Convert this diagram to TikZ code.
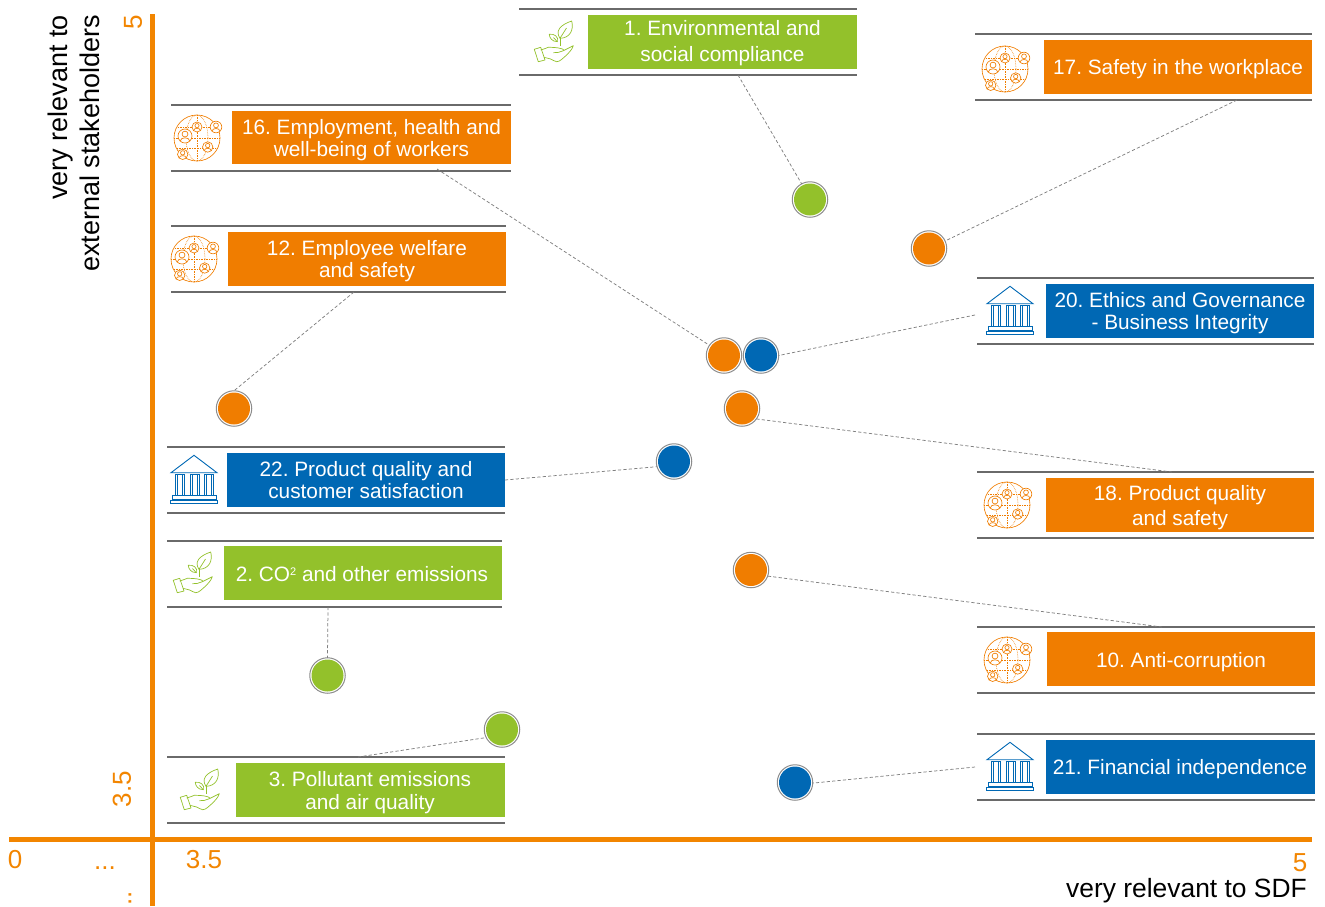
\documentclass[tikz,border=0pt]{standalone}
\usepackage{fontspec}
\setmainfont{Liberation Sans}
\frenchspacing
\definecolor{cOrange}{HTML}{F07D00}
\definecolor{cAxis}{HTML}{F28500}
\definecolor{cGreen}{HTML}{93C12B}
\definecolor{cBlue}{HTML}{0068B4}
\definecolor{cRule}{HTML}{6A6A6A}
\definecolor{cDash}{HTML}{808080}
\definecolor{cRing}{HTML}{8C8C8C}
\newcommand{\myperson}[3]{%
  \draw[fill=white] (#1,#2) circle[radius=#3];
  \draw (#1,#2-0.28*#3) circle[radius=0.42*#3];
  \draw (#1-0.68*#3,#2+0.72*#3) .. controls (#1-0.65*#3,#2+0.1*#3) and (#1+0.65*#3,#2+0.1*#3) .. (#1+0.68*#3,#2+0.72*#3);
}
\tikzset{
  x=1pt,y=-1pt,
  bandrule/.style={draw=cRule,line width=1.9pt},
  labelbox/.style={anchor=center,inner sep=0pt,outer sep=0pt,text=white,align=center,font=\fontsize{20.8}{22.4}\selectfont},
  conn/.style={draw=cDash,line width=0.75pt,dash pattern=on 3.2pt off 2.2pt},
  dotbase/.style={circle,draw=cRing,line width=1pt,fill=white,minimum size=35.5pt,inner sep=0pt,outer sep=0pt,
    path picture={\fill[#1] (path picture bounding box.center) circle[radius=16pt];}},
  axislabel/.style={text=cAxis,font=\fontsize{26}{28}\selectfont,inner sep=0pt},
  axistitle/.style={text=black,font=\fontsize{26.4}{31.5}\selectfont,inner sep=0pt},
  globeicon/.pic={
    \begin{scope}[draw=cOrange,line width=0.65pt]
      \draw (0,0) circle[radius=23];
      \draw[densely dotted] (0,-23) -- (0,23) (-23,0) -- (23,0) (-19,-11) -- (19,-11) (-20,10) -- (20,10);
      \draw[densely dotted] (0,0) ellipse[x radius=11,y radius=23];
      \myperson{0}{-11}{5}
      \myperson{19}{-11}{5.8}
      \myperson{-12}{-2}{7}
      \myperson{10.7}{9}{5.2}
      \myperson{-14.3}{16.3}{5.2}
    \end{scope}
  },
  bankicon/.pic={
    \begin{scope}[draw=cBlue,line width=0.9pt]
      \draw (-23,-7.3) -- (0,-24.7) -- (23,-7.3) -- cycle;
      \draw (-18.3,-6) rectangle (-10,15);
      \draw (-4,-6) rectangle (5,15);
      \draw (10.3,-6) rectangle (19.3,15);
      \draw (-16.3,-6) -- (-16.3,15) (-12,-6) -- (-12,15);
      \draw (-2,-6) -- (-2,15) (3,-6) -- (3,15);
      \draw (12.3,-6) -- (12.3,15) (17.3,-6) -- (17.3,15);
      \draw (-21.3,15) rectangle (22,19);
      \draw (-24,20) rectangle (23.7,23.3);
    \end{scope}
  },
  planticon/.pic={
    \begin{scope}[draw=cGreen,line width=0.7pt,line join=round]
      % big leaf
      \draw (7,-3.7) .. controls (2,-11) and (7,-17) .. (18.7,-21) .. controls (21,-12) and (17,-4) .. cycle;
      \draw (7,-3.7) -- (13.5,-14);
      % small leaf
      \draw (4.3,-0.3) .. controls (-1,-0.5) and (-3.5,-4) .. (-3.7,-7.7) .. controls (1,-8.5) and (6,-5.5) .. cycle;
      \draw (4.3,-0.3) -- (0.5,-4.5);
      % stem
      \draw (7,3.7) -- (7,-5);
      % cuff
      \draw (-18.7,7.3) -- (-12.3,5.3) -- (-8,18) -- (-14.7,19.7) -- cycle;
      % hand
      \draw (-12.3,8) .. controls (-9,8) and (-7,5.3) .. (-4.7,5.3) .. controls (-1,5.3) and (4,5.5) .. (7,6.3) .. controls (11,7) and (11,8.5) .. (10.3,8.7) .. controls (7,10.5) and (4,10.7) .. (0.3,10.7);
      \draw (10.3,8.7) -- (20.3,3.7) .. controls (19.5,7) and (16,10.5) .. (13.7,13) .. controls (10,16) and (7,19.7) .. (3.7,19.7) .. controls (1,19.7) and (0,17.5) .. (-2.3,17) -- (-9,15.3);
    \end{scope}
  },
}
\begin{document}
\begin{tikzpicture}
\useasboundingbox (0,0) rectangle (1325,906);
% axes
\draw[cAxis,line width=5pt] (152,14) -- (152,906);
\draw[cAxis,line width=5pt] (9,839) -- (1312,839);
% axis labels
\node[axislabel,rotate=90] (yfive) at (133,22) {5};
\node[axislabel,rotate=90] (ythree) at (122,789) {3.5};
\node[axislabel,rotate=90] (ydots) at (130,898) {..};
\node[axislabel] (xzero) at (15,860) {0};
\node[axislabel] (xdots) at (105,868) {...};
\node[axislabel] (xthree) at (204,860) {3.5};
\node[axislabel] (xfive) at (1300,863) {5};
\node[axistitle,anchor=east] (xtitle) at (1307,891) {very relevant to SDF};
\node[axistitle,font=\fontsize{27}{31.5}\selectfont,rotate=90,align=right,anchor=east] (ytitle) at (74,15) {very relevant to\\external stakeholders};
% bands
\draw[bandrule] (519,9) -- (857,9) (519,75) -- (857,75);
\fill[cGreen] (588,15) rectangle (857,69);
\node[labelbox,font=\fontsize{20.8}{25.5}\selectfont] (b1) at (722.5,43) {1. Environmental and\\social compliance};
\pic at (553,42) {planticon};
\draw[bandrule] (975,34) -- (1312,34) (975,100) -- (1312,100);
\fill[cOrange] (1044,40) rectangle (1312,94);
\node[labelbox] (b17) at (1178,69) {17. Safety in the workplace};
\pic at (1005,69) {globeicon};
\draw[bandrule] (171,105) -- (511,105) (171,171) -- (511,171);
\fill[cOrange] (232,111) rectangle (511,164);
\node[labelbox] (b16) at (371.5,140) {16. Employment, health and\\well-being of workers};
\pic at (197,138) {globeicon};
\draw[bandrule] (171,226) -- (506,226) (171,292) -- (506,292);
\fill[cOrange] (228,232) rectangle (506,286);
\node[labelbox] (b12) at (367,261) {12. Employee welfare\\and safety};
\pic at (194,259) {globeicon};
\draw[bandrule] (977,278) -- (1314,278) (977,344) -- (1314,344);
\fill[cBlue] (1046,284) rectangle (1314,338);
\node[labelbox] (b20) at (1180,313) {20. Ethics and Governance\\- Business Integrity};
\pic at (1010,311) {bankicon};
\draw[bandrule] (167,447) -- (505,447) (167,513) -- (505,513);
\fill[cBlue] (227,453) rectangle (505,507);
\node[labelbox] (b22) at (366,480) {22. Product quality and\\customer satisfaction};
\pic at (194,480) {bankicon};
\draw[bandrule] (977,472) -- (1314,472) (977,538) -- (1314,538);
\fill[cOrange] (1046,478) rectangle (1314,532);
\node[labelbox,font=\fontsize{20.8}{25.5}\selectfont] (b18) at (1180,507.5) {18. Product quality\\and safety};
\pic at (1007,505) {globeicon};
\draw[bandrule] (167,541) -- (502,541) (167,607) -- (502,607);
\fill[cGreen] (224,546) rectangle (502,600);
\node[labelbox] (b2) at (362,574.5) {2. CO{\fontsize{11}{11}\selectfont\raisebox{6pt}{2}} and other emissions};
\pic at (192,573) {planticon};
\draw[bandrule] (977,627) -- (1315,627) (977,693) -- (1315,693);
\fill[cOrange] (1047,632) rectangle (1315,686);
\node[labelbox] (b10) at (1181,662) {10. Anti-corruption};
\pic at (1007,660) {globeicon};
\draw[bandrule] (977,734) -- (1315,734) (977,800) -- (1315,800);
\fill[cBlue] (1046,740) rectangle (1315,794);
\node[labelbox] (b21) at (1180,769) {21. Financial independence};
\pic at (1010,767) {bankicon};
\draw[bandrule] (167,757) -- (505,757) (167,823) -- (505,823);
\fill[cGreen] (236,763) rectangle (505,817);
\node[labelbox] (b3) at (370,792.5) {3. Pollutant emissions\\and air quality};
\pic at (199,790) {planticon};
% dots
\node[dotbase=cGreen] (d1) at (810,199.5) {};
\node[dotbase=cOrange] (d17) at (929,248.5) {};
\node[dotbase=cOrange] (d16) at (724,355.5) {};
\node[dotbase=cBlue] (d20) at (761,355.5) {};
\node[dotbase=cOrange] (d18) at (742,408.5) {};
\node[dotbase=cOrange] (d12) at (234,408.5) {};
\node[dotbase=cBlue] (d22) at (674,461.5) {};
\node[dotbase=cOrange] (d10) at (751,570) {};
\node[dotbase=cGreen] (d2) at (327.5,675.5) {};
\node[dotbase=cGreen] (d3) at (502,729.5) {};
\node[dotbase=cBlue] (d21) at (795,782.5) {};
% connector ends
\coordinate (e1) at (738,75);
\coordinate (e17) at (1237,100);
\coordinate (e16) at (437,169);
\coordinate (e12) at (354,292);
\coordinate (e20) at (975,315);
\coordinate (e18) at (1172,472);
\coordinate (e22) at (505,480);
\coordinate (e10) at (1162,627);
\coordinate (e2) at (328,607);
\coordinate (e3) at (358,757);
\coordinate (e21) at (975,767);
\draw[conn] (e1) -- (d1.118);
\draw[conn] (e17) -- (d17.25);
\draw[conn] (e16) -- (d16.145);
\draw[conn] (e12) -- (d12.90);
\draw[conn] (e20) -- (d20.0);
\draw[conn] (e18) -- (d18.-36);
\draw[conn] (e22) -- (d22.197);
\draw[conn] (e10) -- (d10.-20);
\draw[conn] (e2) -- (d2.90);
\draw[conn] (e3) -- (d3.207);
\draw[conn] (e21) -- (d21.-2);
\end{tikzpicture}
\end{document}
